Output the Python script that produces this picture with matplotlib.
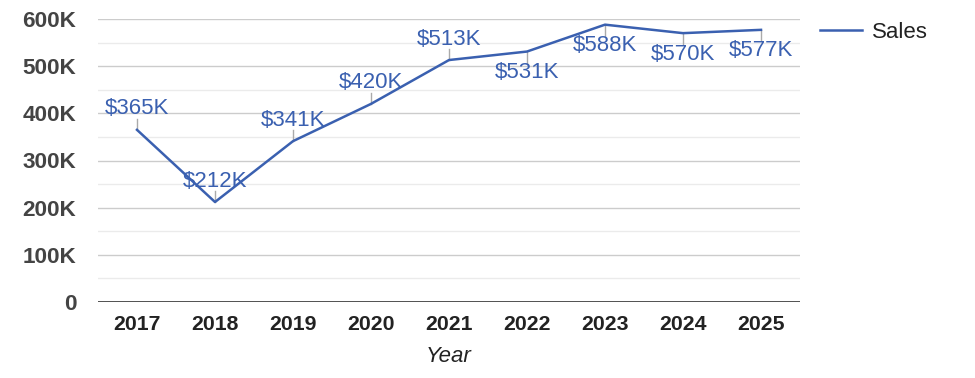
import matplotlib
matplotlib.use("Agg")
import matplotlib.pyplot as plt
from matplotlib.lines import Line2D

years = ["2017", "2018", "2019", "2020", "2021", "2022", "2023", "2024", "2025"]
sales = [365, 212, 341, 420, 513, 531, 588, 570, 577]  # thousands
label_above = [True, True, True, True, True, False, False, False, False]
yticks = [0, 100, 200, 300, 400, 500, 600]
ytick_labels = ["0", "100K", "200K", "300K", "400K", "500K", "600K"]

plt.rcParams['font.family'] = ['Liberation Sans', 'DejaVu Sans']
W, H = 975, 378
fig = plt.figure(figsize=(W / 100, H / 100), dpi=100)
left, right, top, bottom = 98, 800, 19, 302
ax = fig.add_axes([left / W, 1 - bottom / H, (right - left) / W, (bottom - top) / H])

blue = "#3a60b0"
x = list(range(len(years)))
ax.set_xlim(-0.5, len(years) - 0.5)
ax.set_ylim(0, 600)

for v in range(50, 600, 100):
    ax.axhline(v, color="#ebebeb", lw=1, zorder=0)
for v in yticks[1:]:
    ax.axhline(v, color="#cccccc", lw=1, zorder=0)
ax.axhline(0, color="#333333", lw=1.2, zorder=3)

ax.plot(x, sales, color=blue, lw=1.8, zorder=4)

pxk = (bottom - top) / 600.0
for xi, v, up in zip(x, sales, label_above):
    d = 1 if up else -1
    ax.plot([xi, xi], [v, v + d * 11 / pxk], color="#aaaaaa", lw=1, zorder=2)
    ax.annotate(f"${v}K", (xi, v), xytext=(0, d * 21), textcoords="offset pixels",
                ha="center", va="center", color=blue, fontsize=16, zorder=5)

for s in ax.spines.values():
    s.set_visible(False)
ax.set_yticks(yticks)
ax.set_yticklabels(ytick_labels, fontsize=16.2, fontweight="bold", color="#444444")
ax.set_xticks(x)
ax.set_xticklabels(years, fontsize=15.3, fontweight="bold", color="#222222")
ax.tick_params(length=0)
ax.tick_params(axis="x", pad=9)
ax.tick_params(axis="y", pad=15.5)
ax.set_xlabel("Year", fontsize=16, style="italic", color="#222222", labelpad=9)

leg = ax.legend([Line2D([0], [0], color=blue, lw=1.8)], ["Sales"],
                loc="upper left", bbox_to_anchor=(1.0, 1.06), frameon=False,
                fontsize=16, handlelength=1.9, handletextpad=0.45, labelcolor="#222222")

fig.savefig("out.png", dpi=100, facecolor="white")
